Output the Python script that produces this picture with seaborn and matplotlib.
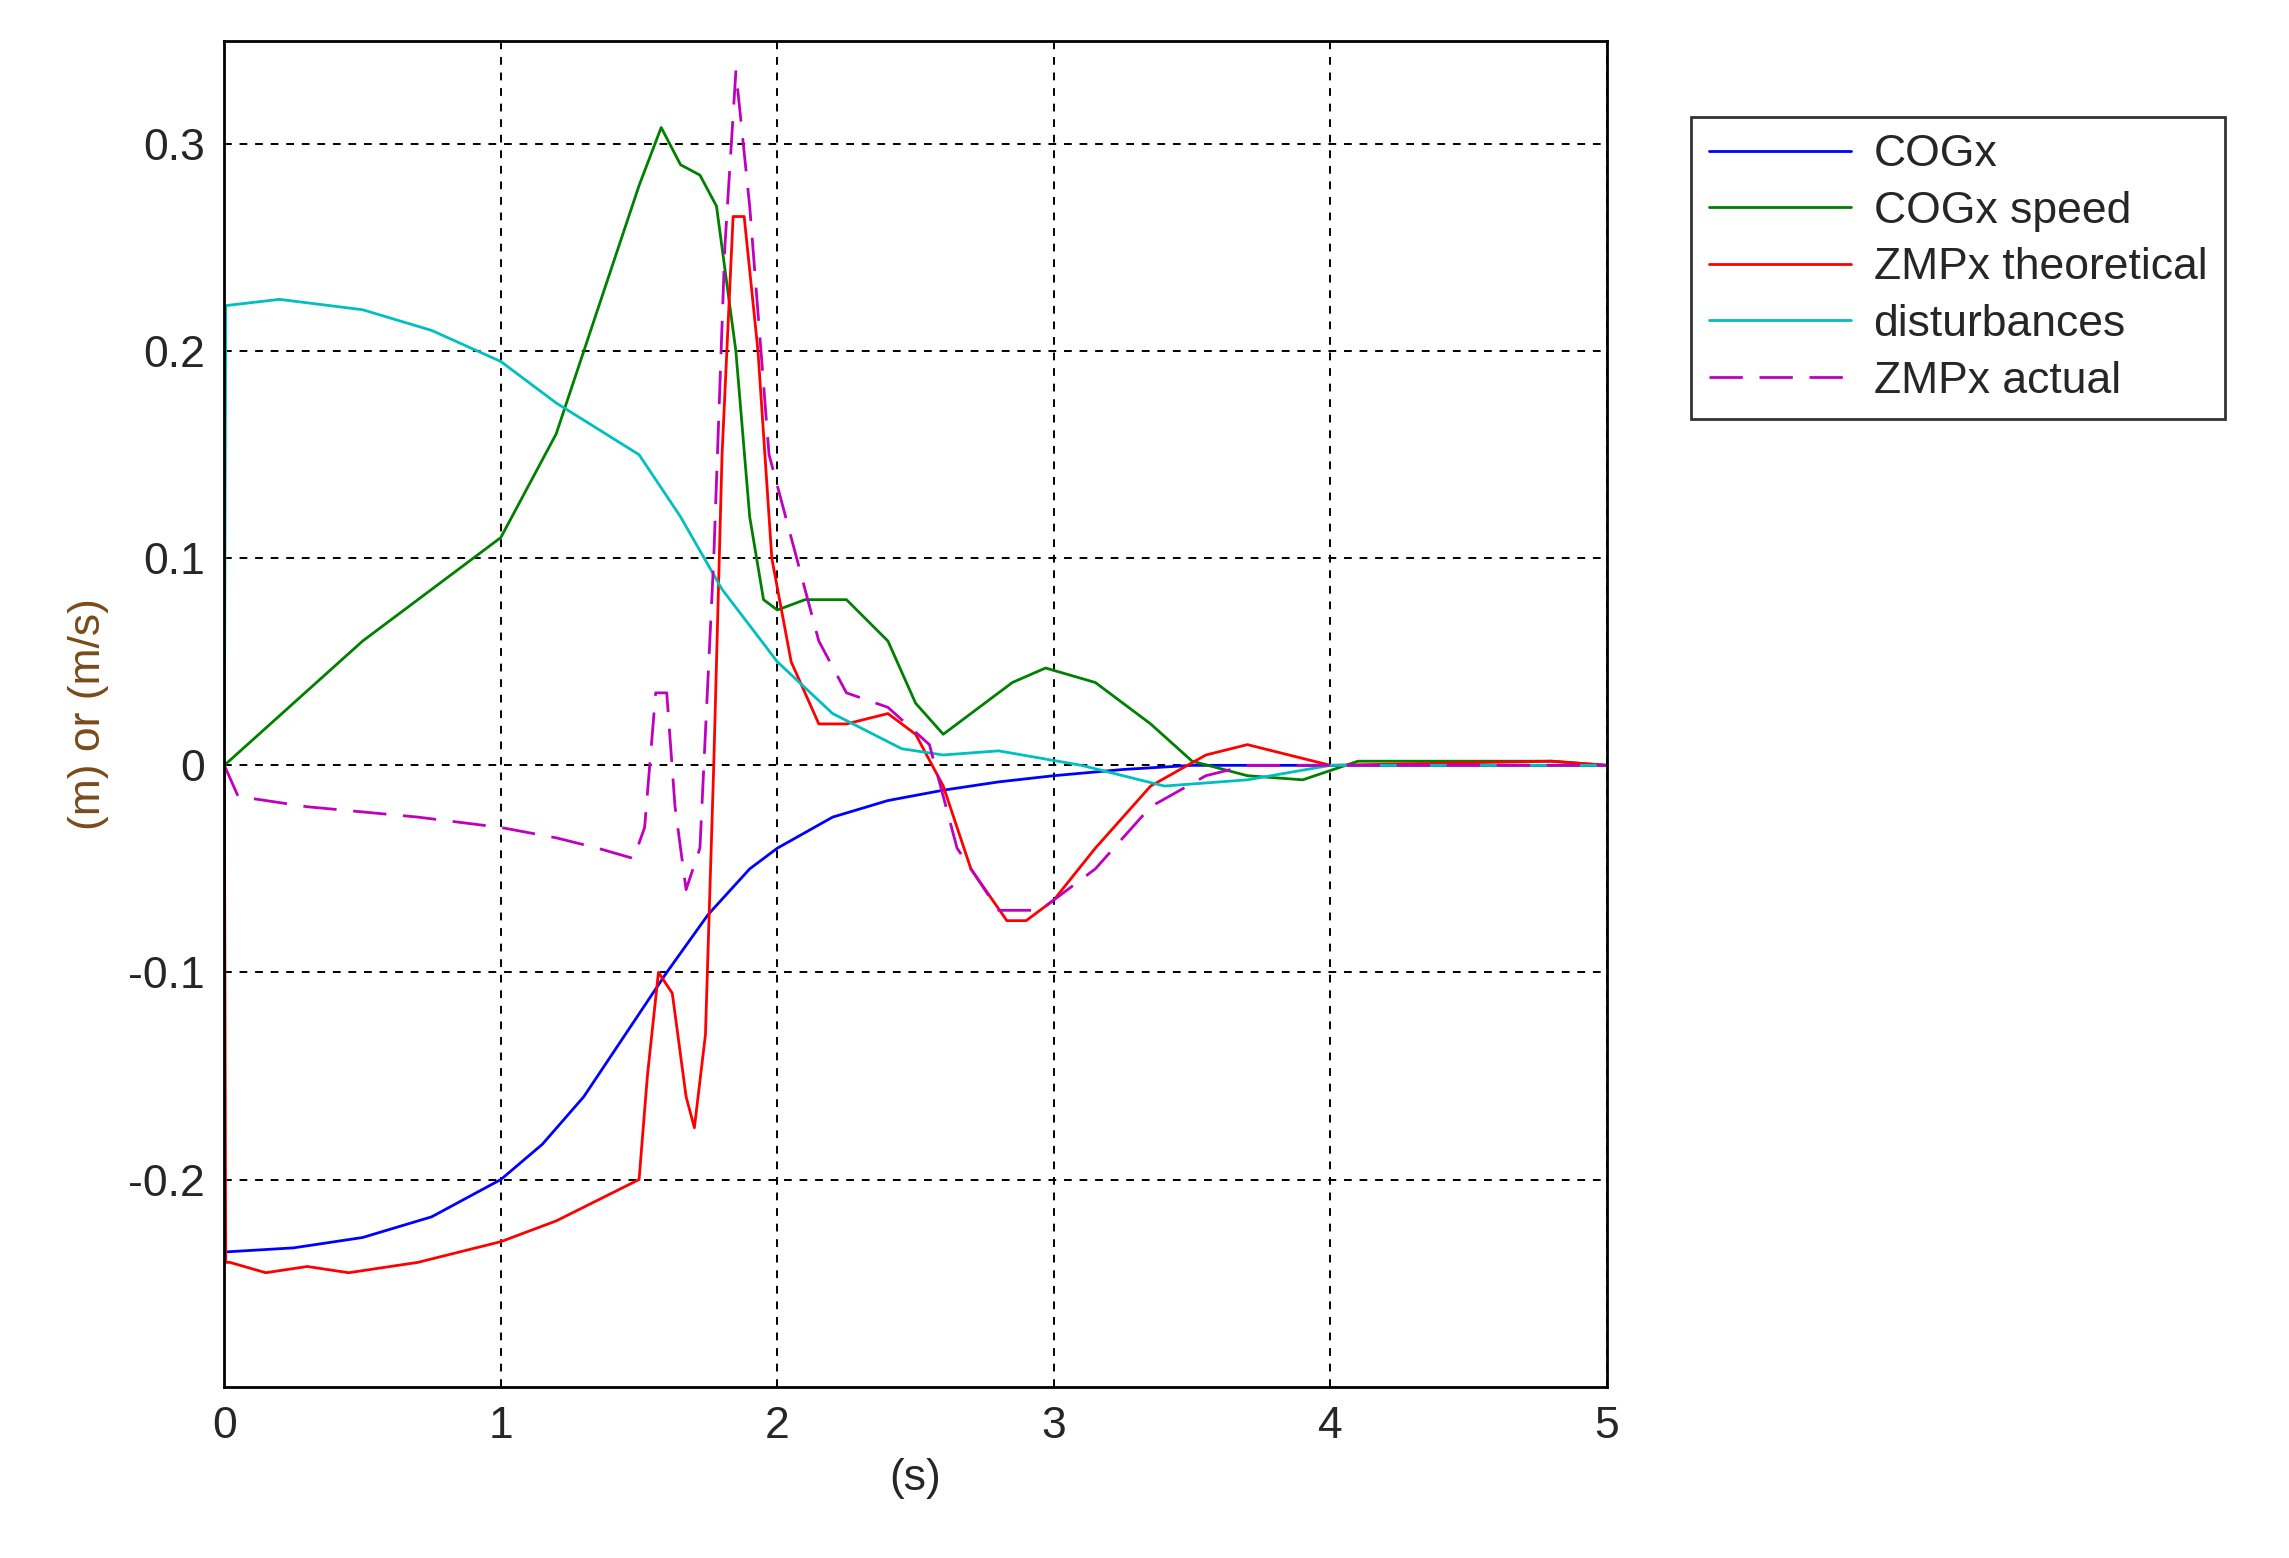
import matplotlib
matplotlib.use('Agg')
import matplotlib.pyplot as plt
import seaborn as sns

# time / value arrays
t_cog = [0, 0.25, 0.5, 0.75, 1.0, 1.15, 1.3, 1.45, 1.6, 1.75, 1.9, 2.0, 2.2, 2.4, 2.6, 2.8, 3.0, 3.25, 3.5, 4.0, 5.0]
cog = [-0.235, -0.233, -0.228, -0.218, -0.2, -0.183, -0.16, -0.13, -0.1, -0.072, -0.05, -0.04, -0.025, -0.017, -0.012, -0.008, -0.005, -0.002, 0, 0, 0]

t_spd = [0, 0.25, 0.5, 0.8, 1.0, 1.2, 1.35, 1.5, 1.58, 1.65, 1.72, 1.78, 1.85, 1.9, 1.95, 2.0, 2.1, 2.25, 2.4, 2.5, 2.6, 2.7, 2.85, 2.97, 3.15, 3.35, 3.5, 3.7, 3.9, 4.1, 4.8, 5.0]
spd = [0, 0.03, 0.06, 0.09, 0.11, 0.16, 0.22, 0.28, 0.308, 0.29, 0.285, 0.27, 0.2, 0.12, 0.08, 0.075, 0.08, 0.08, 0.06, 0.03, 0.015, 0.025, 0.04, 0.047, 0.04, 0.02, 0.002, -0.005, -0.007, 0.002, 0.002, 0]

t_zth = [0, 0.005, 0.02, 0.15, 0.3, 0.45, 0.7, 1.0, 1.2, 1.35, 1.5, 1.53, 1.57, 1.62, 1.67, 1.7, 1.74, 1.77, 1.8, 1.84, 1.88, 1.93, 1.98, 2.05, 2.15, 2.25, 2.4, 2.5, 2.6, 2.7, 2.83, 2.9, 3.0, 3.15, 3.35, 3.55, 3.7, 3.85, 4.0, 4.8, 5.0]
zth = [0, -0.24, -0.24, -0.245, -0.242, -0.245, -0.24, -0.23, -0.22, -0.21, -0.2, -0.15, -0.1, -0.11, -0.16, -0.175, -0.13, 0.0, 0.15, 0.265, 0.265, 0.2, 0.1, 0.05, 0.02, 0.02, 0.025, 0.015, -0.01, -0.05, -0.075, -0.075, -0.065, -0.04, -0.01, 0.005, 0.01, 0.005, 0, 0.002, 0]

t_dist = [0, 0.005, 0.2, 0.5, 0.75, 1.0, 1.2, 1.5, 1.65, 1.8, 2.0, 2.2, 2.45, 2.6, 2.8, 3.1, 3.4, 3.7, 4.0, 5.0]
dist = [0, 0.222, 0.225, 0.22, 0.21, 0.195, 0.175, 0.15, 0.12, 0.085, 0.05, 0.025, 0.008, 0.005, 0.007, 0, -0.01, -0.007, 0, 0]

t_zac = [0, 0.05, 0.3, 0.7, 1.0, 1.2, 1.35, 1.48, 1.52, 1.56, 1.6, 1.63, 1.67, 1.72, 1.77, 1.81, 1.85, 1.9, 1.97, 2.05, 2.15, 2.25, 2.4, 2.55, 2.65, 2.8, 2.95, 3.15, 3.35, 3.55, 3.7, 5.0]
zac = [0, -0.015, -0.02, -0.025, -0.03, -0.035, -0.04, -0.045, -0.03, 0.035, 0.035, -0.02, -0.06, -0.04, 0.1, 0.25, 0.335, 0.27, 0.15, 0.11, 0.06, 0.035, 0.028, 0.01, -0.04, -0.07, -0.07, -0.05, -0.02, -0.005, 0, 0]

sns.set_style('white')
plt.rcParams['font.family'] = ['Liberation Sans', 'DejaVu Sans']

fig = plt.figure(figsize=(22.89, 15.58), dpi=100)
ax = fig.add_axes([0.098, 0.11, 0.604, 0.864])

kw = dict(ax=ax, sort=False, estimator=None, linewidth=2)
sns.lineplot(x=t_cog, y=cog, color='#0000ff', label='COGx', **kw)
sns.lineplot(x=t_spd, y=spd, color='#008000', label='COGx speed', **kw)
sns.lineplot(x=t_zth, y=zth, color='#ff0000', label='ZMPx theoretical', **kw)
sns.lineplot(x=t_dist, y=dist, color='#00bfbf', label='disturbances', **kw)
sns.lineplot(x=t_zac, y=zac, color='#bf00bf', label='ZMPx actual', **kw)
ax.lines[-1].set_dashes([12, 6])

ax.set_xlim(0, 5)
ax.set_ylim(-0.3, 0.35)
ax.set_xticks([0, 1, 2, 3, 4, 5])
ax.set_yticks([-0.2, -0.1, 0, 0.1, 0.2, 0.3])
ax.set_yticklabels(['-0.2', '-0.1', '0', '0.1', '0.2', '0.3'])
ax.tick_params(labelsize=32, direction='in', length=7, pad=14)
ax.grid(True, color='black', linestyle=(0, (4, 4)), linewidth=1.4)
for s in ax.spines.values():
    s.set_color('black')
    s.set_linewidth(2)
ax.set_xlabel('(s)', fontsize=32, labelpad=8)
ax.set_ylabel('(m) or (m/s)', fontsize=32, color='#7a4a1a', labelpad=14)

leg = ax.legend(loc='upper left', bbox_to_anchor=(1.045, 0.96), fontsize=32,
                frameon=True, fancybox=False, edgecolor='black', handlelength=3.2,
                borderpad=0.4, labelspacing=0.35, handletextpad=0.5)
leg.get_frame().set_linewidth(2)

fig.savefig('out.png', dpi=100)
